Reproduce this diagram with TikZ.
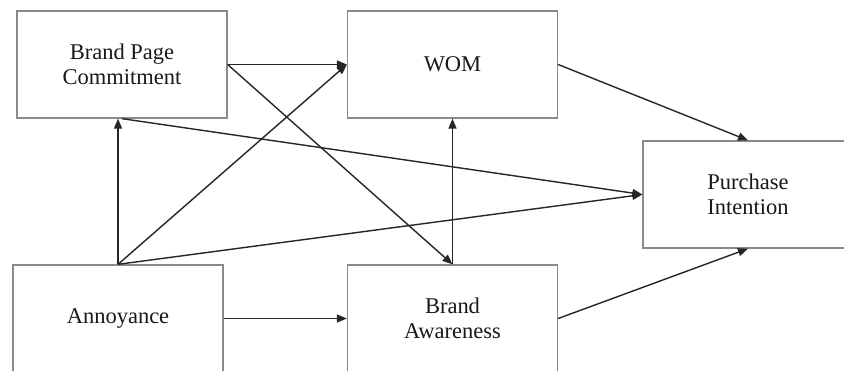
\documentclass[tikz,border=0pt]{standalone}
\usepackage{fontspec}
\setmainfont{Liberation Serif}
\usetikzlibrary{arrows.meta}
\definecolor{boxgray}{HTML}{8A8A8A}
\definecolor{linegray}{HTML}{262626}
\begin{document}
\begin{tikzpicture}[x=1pt,y=-1pt,
  box/.style={draw=boxgray, line width=1.3pt, minimum width=210pt, minimum height=107pt,
    inner sep=0pt, align=center, font=\fontsize{22.5}{25}\selectfont, text=black!90},
  conn/.style={draw=linegray, line width=1.4pt, -{Triangle[length=10pt,width=8pt]}}]
\useasboundingbox (0,0) rectangle (844,370);
\fill[white] (0,0) rectangle (844,370);
\node[box] (bpc) at (122,64.5) {Brand Page\\Commitment};
\node[box] (wom) at (452.5,64.5) {WOM};
\node[box] (pi) at (748,194.5) {Purchase\\Intention};
\node[box] (anno) at (118,318.5) {Annoyance};
\node[box] (ba) at (452.5,318.5) {Brand\\Awareness};
\draw[conn] (bpc.east) -- (wom.west);
\draw[conn] (bpc.east) -- (ba.north);
\draw[conn] (anno.north) -- (wom.west);
\draw[conn] (anno.north) -- (anno.north |- bpc.south);
\draw[conn] (anno.north) -- (pi.west);
\draw[conn] (bpc.south) -- (pi.west);
\draw[conn] (ba.north) -- (wom.south);
\draw[conn] (anno.east) -- (ba.west);
\draw[conn] (wom.east) -- (pi.north);
\draw[conn] (ba.east) -- (pi.south);
\end{tikzpicture}
\end{document}
